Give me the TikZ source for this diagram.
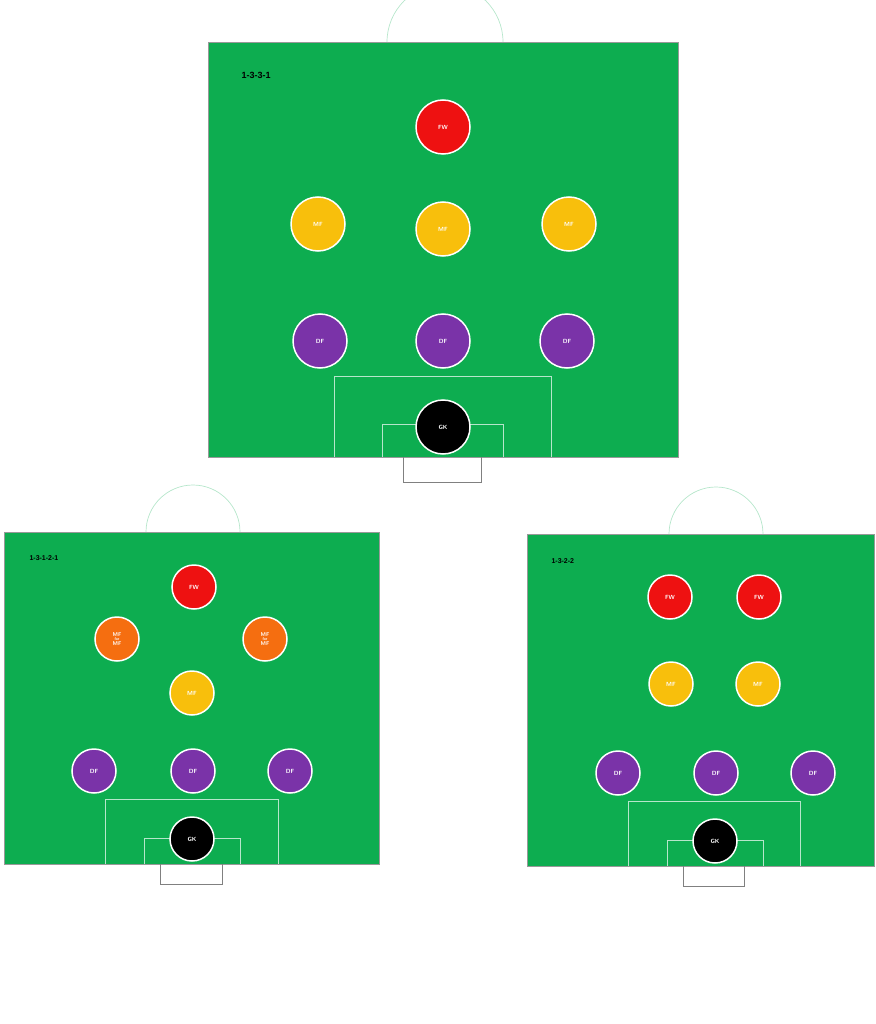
\documentclass[tikz,border=0pt]{standalone}
\usepackage{fontspec}
\setmainfont{Liberation Sans}
\begin{document}
\begin{tikzpicture}[x=1pt,y=-1pt,
 pitch/.style={fill=pgreen,draw=black!40,line width=0.5pt},
 ln/.style={draw=white!70!pgreen,line width=0.7pt},
 pl/.style={circle,draw=white,line width=1.5pt,minimum size=#1,inner sep=0pt,text=white,font=\bfseries\sffamily\fontsize{6}{6}\selectfont},
 fw/.style={pl=#1,fill=fwred}, mf/.style={pl=#1,fill=mfy}, df/.style={pl=#1,fill=dfp}, gk/.style={pl=#1,fill=black},
 mo/.style={pl=#1,fill=mfo},
 lab/.style={font=\bfseries\small,anchor=west}]
\definecolor{pgreen}{HTML}{0DAD50}
\definecolor{fwred}{HTML}{EE1111}
\definecolor{mfy}{HTML}{F8BF0C}
\definecolor{dfp}{HTML}{7A33A8}
\definecolor{mfo}{HTML}{F56E10}
\useasboundingbox (0,0) rectangle (875,1024);
% top
\draw[pitch] (208,42) rectangle (678,457);
\draw[ln] (387,42) arc[start angle=180,end angle=360,radius=58];
\draw[ln] (334,457) -- (334,376) -- (551,376) -- (551,457);
\draw[ln] (382,457) -- (382,424) -- (503,424) -- (503,457);
\draw[black!50] (403,457) -- (403,482) -- (481,482) -- (481,457);
\node[lab] (l1) at (238,75) {1-3-3-1};
\node[fw=54pt] (a1) at (443,127) {FW};
\node[mf=54pt] (a2) at (318,224) {MF};
\node[mf=54pt] (a3) at (443,229) {MF};
\node[mf=54pt] (a4) at (569,224) {MF};
\node[df=54pt] (a5) at (320,341) {DF};
\node[df=54pt] (a6) at (443,341) {DF};
\node[df=54pt] (a7) at (567,341) {DF};
\node[gk=54pt] (a8) at (443,427) {GK};
% bottom left
\draw[pitch] (4,532) rectangle (379,864);
\draw[ln] (146,532) arc[start angle=180,end angle=360,radius=47];
\draw[ln] (105,864) -- (105,799) -- (278,799) -- (278,864);
\draw[ln] (144,864) -- (144,838) -- (240,838) -- (240,864);
\draw[black!50] (160,864) -- (160,884) -- (222,884) -- (222,864);
\node[lab,font=\bfseries\scriptsize] (l2) at (26,558) {1-3-1-2-1};
\node[fw=44pt] (b1) at (194,587) {FW};
\node[mo=44pt,align=center,font=\bfseries\sffamily\fontsize{5.5}{5.5}\selectfont] (b2) at (117,639) {MF\\[-1pt]{\fontsize{4}{4}\selectfont for}\\[-1pt]MF};
\node[mo=44pt,align=center,font=\bfseries\sffamily\fontsize{5.5}{5.5}\selectfont] (b3) at (265,639) {MF\\[-1pt]{\fontsize{4}{4}\selectfont for}\\[-1pt]MF};
\node[mf=44pt] (b4) at (192,693) {MF};
\node[df=44pt] (b5) at (94,771) {DF};
\node[df=44pt] (b6) at (193,771) {DF};
\node[df=44pt] (b7) at (290,771) {DF};
\node[gk=44pt] (b8) at (192,839) {GK};
% bottom right
\draw[pitch] (527,534) rectangle (874,866);
\draw[ln] (669,534) arc[start angle=180,end angle=360,radius=47];
\draw[ln] (628,866) -- (628,801) -- (800,801) -- (800,866);
\draw[ln] (667,866) -- (667,840) -- (763,840) -- (763,866);
\draw[black!50] (683,866) -- (683,886) -- (744,886) -- (744,866);
\node[lab,font=\bfseries\scriptsize] (l3) at (548,561) {1-3-2-2};
\node[fw=44pt] (c1) at (670,597) {FW};
\node[fw=44pt] (c2) at (759,597) {FW};
\node[mf=44pt] (c3) at (671,684) {MF};
\node[mf=44pt] (c4) at (758,684) {MF};
\node[df=44pt] (c5) at (618,773) {DF};
\node[df=44pt] (c6) at (716,773) {DF};
\node[df=44pt] (c7) at (813,773) {DF};
\node[gk=44pt] (c8) at (715,841) {GK};
\end{tikzpicture}
\end{document}
